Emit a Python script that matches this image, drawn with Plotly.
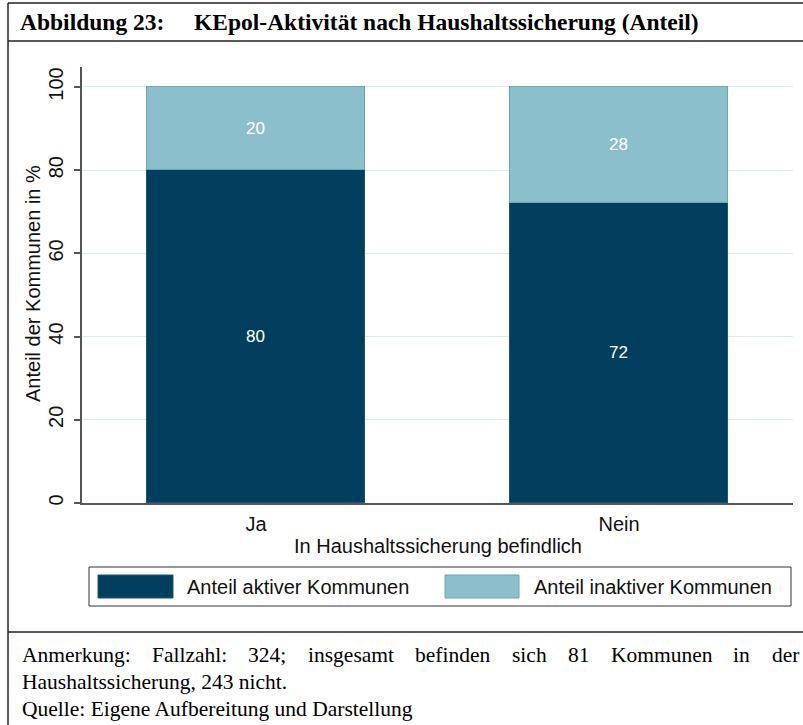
import plotly.graph_objects as go

categories = ["Ja", "Nein"]
aktiv = [80, 72]
inaktiv = [20, 28]
series_names = ["Anteil aktiver Kommunen", "Anteil inaktiver Kommunen"]
y_ticks = [0, 20, 40, 60, 80, 100]

title_text = "Abbildung 23:"
title_text2 = "KEpol-Aktivität nach Haushaltssicherung (Anteil)"
note_line1_words = ["Anmerkung:", "Fallzahl:", "324;", "insgesamt", "befinden", "sich", "81", "Kommunen", "in", "der"]
note_line2 = "Haushaltssicherung, 243 nicht."
note_line3 = "Quelle: Eigene Aufbereitung und Darstellung"

W, H = 803, 725
L, R, T, B = 82, 10, 67, 222
PW = W - L - R
PH = H - T - B

def px(x):
    return (x - L) / PW

def py(y):
    return (H - B - y) / PH

DARK = "#023f5f"
LIGHT = "#8bbfcb"
SANS = "Liberation Sans, Arial, sans-serif"
SERIF = "Liberation Serif, Times New Roman, serif"
NOTE_SIZE = 21.5

# Times / Liberation Serif advance widths (per 1000 em) for justifying the note line
TIMES_W = {
    'a': 444, 'b': 500, 'c': 444, 'd': 500, 'e': 444, 'f': 333, 'g': 500, 'h': 500,
    'i': 278, 'j': 278, 'k': 500, 'l': 278, 'm': 778, 'n': 500, 'o': 500, 'p': 500,
    'q': 500, 'r': 333, 's': 389, 't': 278, 'u': 500, 'v': 500, 'w': 722, 'x': 500,
    'y': 500, 'z': 444, 'A': 722, 'F': 556, 'K': 722, ':': 278, ';': 278, ',': 250,
    '.': 250,
}

def text_width(s, size):
    return sum(TIMES_W.get(ch, 500) for ch in s) * size / 1000.0

fig = go.Figure()
fig.add_trace(go.Bar(
    x=categories, y=aktiv, name=series_names[0],
    marker=dict(color=DARK, line=dict(color="#1b5670", width=1)),
    text=[str(v) for v in aktiv], textposition="inside", insidetextanchor="middle",
    textfont=dict(color="white", size=17, family=SANS), width=0.6, showlegend=False,
))
fig.add_trace(go.Bar(
    x=categories, y=inaktiv, name=series_names[1],
    marker=dict(color=LIGHT, line=dict(color="#6aa6b6", width=1)),
    text=[str(v) for v in inaktiv], textposition="inside", insidetextanchor="middle",
    textfont=dict(color="white", size=17, family=SANS), width=0.6, showlegend=False,
))

shapes = []
annotations = []
line_col = "#222222"
# frame lines
shapes.append(dict(type="line", xref="paper", yref="paper", x0=px(8), x1=px(8), y0=py(3), y1=py(725), line=dict(color=line_col, width=1.5)))
shapes.append(dict(type="line", xref="paper", yref="paper", x0=px(8), x1=px(803), y0=py(3), y1=py(3), line=dict(color=line_col, width=1.5)))
shapes.append(dict(type="line", xref="paper", yref="paper", x0=px(8), x1=px(803), y0=py(41), y1=py(41), line=dict(color=line_col, width=1.5)))
shapes.append(dict(type="line", xref="paper", yref="paper", x0=px(8), x1=px(803), y0=py(632), y1=py(632), line=dict(color=line_col, width=1.5)))

# legend box
shapes.append(dict(type="rect", xref="paper", yref="paper", x0=px(89), x1=px(791), y0=py(567), y1=py(606), line=dict(color="#333333", width=1), fillcolor="white"))
shapes.append(dict(type="rect", xref="paper", yref="paper", x0=px(98), x1=px(173), y0=py(575), y1=py(598), line=dict(color="#1b5670", width=1), fillcolor=DARK))
shapes.append(dict(type="rect", xref="paper", yref="paper", x0=px(445), x1=px(519), y0=py(575), y1=py(598), line=dict(color="#6aa6b6", width=1), fillcolor=LIGHT))
annotations.append(dict(text=series_names[0], xref="paper", yref="paper", x=px(185), y=py(587), xanchor="left", yanchor="middle", showarrow=False, font=dict(family=SANS, size=20, color="#111111")))
annotations.append(dict(text=series_names[1], xref="paper", yref="paper", x=px(532), y=py(587), xanchor="left", yanchor="middle", showarrow=False, font=dict(family=SANS, size=20, color="#111111")))

# title
annotations.append(dict(text="<b>" + title_text + "</b>", xref="paper", yref="paper", x=px(18), y=py(22), xanchor="left", yanchor="middle", showarrow=False, font=dict(family=SERIF, size=23.5, color="black")))
annotations.append(dict(text="<b>" + title_text2 + "</b>", xref="paper", yref="paper", x=px(192), y=py(22), xanchor="left", yanchor="middle", showarrow=False, font=dict(family=SERIF, size=23.5, color="black")))

# notes line 1 (justified between x=19.5 and x=797)
x_start, x_end = 19.5, 797.0
widths = [text_width(w, NOTE_SIZE) for w in note_line1_words]
gap = (x_end - x_start - sum(widths)) / (len(note_line1_words) - 1)
xw = x_start
for w, wd in zip(note_line1_words, widths):
    annotations.append(dict(text=w, xref="paper", yref="paper", x=px(xw), y=py(655), xanchor="left", yanchor="middle", showarrow=False, font=dict(family=SERIF, size=NOTE_SIZE, color="black")))
    xw += wd + gap
annotations.append(dict(text=note_line2, xref="paper", yref="paper", x=px(19.5), y=py(682), xanchor="left", yanchor="middle", showarrow=False, font=dict(family=SERIF, size=NOTE_SIZE, color="black")))
annotations.append(dict(text=note_line3, xref="paper", yref="paper", x=px(19.5), y=py(709), xanchor="left", yanchor="middle", showarrow=False, font=dict(family=SERIF, size=NOTE_SIZE, color="black")))

# x-axis title
annotations.append(dict(text="In Haushaltssicherung befindlich", xref="paper", yref="paper", x=0.5, y=py(546), xanchor="center", yanchor="middle", showarrow=False, font=dict(family=SANS, size=20, color="#111111")))
# y-axis title
annotations.append(dict(text="Anteil der Kommunen in %", xref="paper", yref="paper", x=px(33), y=py(284), xanchor="center", yanchor="middle", textangle=-90, showarrow=False, font=dict(family=SANS, size=20, color="#111111")))

fig.update_layout(
    width=W, height=H,
    margin=dict(l=L, r=R, t=T, b=B, autoexpand=False),
    barmode="stack", bargap=0,
    paper_bgcolor="white", plot_bgcolor="white",
    shapes=shapes, annotations=annotations,
    showlegend=False,
    font=dict(family=SANS, color="#111111"),
)
fig.update_xaxes(
    type="category", range=[-0.479, 1.479],
    showline=True, linecolor="#555555", linewidth=1.5,
    ticks="", tickfont=dict(size=20, family=SANS, color="#111111"),
    showgrid=False, zeroline=False, ticklabelstandoff=2,
)
fig.update_yaxes(
    range=[0, 104.8], tickvals=y_ticks, ticktext=[str(v) for v in y_ticks],
    showline=True, linecolor="#555555", linewidth=1.5,
    ticks="outside", ticklen=6, tickcolor="#555555", tickwidth=1.5,
    tickangle=-90, tickfont=dict(size=20, family=SANS, color="#111111"),
    showgrid=True, gridcolor="#d6ecef", gridwidth=1, zeroline=False,
    ticklabelstandoff=3,
)

fig.write_html("out.html", config={"displayModeBar": False},
               post_script="document.body.style.margin='0px';")
